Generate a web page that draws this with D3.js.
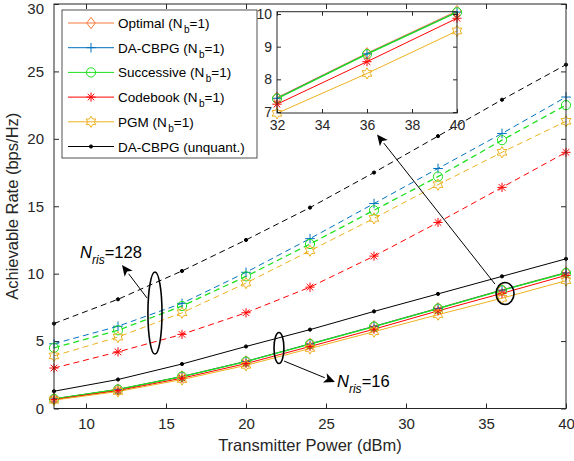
<!DOCTYPE html>
<html>
<head>
<meta charset="utf-8">
<script src="https://cdn.jsdelivr.net/npm/d3@7"></script>
<style>
  body { margin: 0; background: #fff; }
  svg { font-family: "Liberation Sans", Arial, sans-serif; }
  .tick text { fill: #262626; }
</style>
</head>
<body>
<div id="chart"></div>
<script>
(function(d3) {
  "use strict";

  // transmit power (dBm)
  var power = [8, 12, 16, 20, 24, 28, 32, 36, 40];

  // N_ris = 16 (solid lines)
  var optimal16    = [0.72, 1.42, 2.38, 3.50, 4.80, 6.10, 7.44, 8.80, 10.09];
  var dacbpg16     = [0.71, 1.41, 2.37, 3.49, 4.79, 6.09, 7.42, 8.78, 10.06];
  var successive16 = [0.71, 1.41, 2.37, 3.48, 4.78, 6.08, 7.41, 8.77, 10.05];
  var codebook16   = [0.66, 1.33, 2.25, 3.33, 4.60, 5.88, 7.24, 8.54, 9.87];
  var pgm16        = [0.62, 1.26, 2.15, 3.20, 4.45, 5.70, 6.96, 8.18, 9.48];
  var unquant16    = [1.28, 2.15, 3.30, 4.60, 5.85, 7.20, 8.50, 9.80, 11.10];

  // N_ris = 128 (dashed lines)
  var dacbpg128     = [4.8, 6.1, 7.8, 10.1, 12.6, 15.2, 17.8, 20.4, 23.1];
  var successive128 = [4.5, 5.8, 7.6, 9.8, 12.2, 14.7, 17.2, 19.9, 22.5];
  var codebook128   = [3.0, 4.2, 5.5, 7.1, 9.0, 11.3, 13.8, 16.4, 19.0];
  var pgm128        = [3.9, 5.3, 7.1, 9.3, 11.7, 14.1, 16.6, 19.0, 21.3];
  var unquant128    = [6.3, 8.1, 10.2, 12.5, 14.9, 17.5, 20.2, 22.9, 25.5];

  var xTicks = [10, 15, 20, 25, 30, 35, 40];
  var yTicks = [0, 5, 10, 15, 20, 25, 30];
  var insetXTicks = [32, 34, 36, 38, 40];
  var insetYTicks = [7, 8, 9, 10];

  var methods = [
    { key: "optimal",    name: "Optimal",    color: "#F5793A", marker: "diamond" },
    { key: "dacbpg",     name: "DA-CBPG",    color: "#0072BD", marker: "plus" },
    { key: "successive", name: "Successive", color: "#1EE11E", marker: "circle" },
    { key: "codebook",   name: "Codebook",   color: "#FF0000", marker: "asterisk" },
    { key: "pgm",        name: "PGM",        color: "#EDB120", marker: "hexagram" },
    { key: "unquant",    name: "DA-CBPG (unquant.)", color: "#000000", marker: "dot" }
  ];

  var series16 = {
    optimal: optimal16, dacbpg: dacbpg16, successive: successive16,
    codebook: codebook16, pgm: pgm16, unquant: unquant16
  };
  var series128 = {
    dacbpg: dacbpg128, successive: successive128,
    codebook: codebook128, pgm: pgm128, unquant: unquant128
  };

  var width = 574, height = 461;
  var Plot = { left: 54, right: 566, top: 4, bottom: 408.5 };
  var Inset = { left: 277, right: 457, top: 11.7, bottom: 113 };

  var x = d3.scaleLinear().domain([8, 40]).range([Plot.left, Plot.right]);
  var y = d3.scaleLinear().domain([0, 30]).range([Plot.bottom, Plot.top]);
  var xi = d3.scaleLinear().domain([32, 40]).range([Inset.left, Inset.right]);
  var yi = d3.scaleLinear().domain([6.97, 10.07]).range([Inset.bottom, Inset.top]);

  // marker shapes, centred on 0,0
  var hexagram = (function() {
    var pts = [];
    for (var k = 0; k < 12; k++) {
      var a = -Math.PI / 2 + k * Math.PI / 6;
      var r = k % 2 === 0 ? 5.6 : 3.25;
      pts.push([r * Math.cos(a), r * Math.sin(a)]);
    }
    return "M" + pts.map(p => p[0].toFixed(2) + "," + p[1].toFixed(2)).join("L") + "Z";
  })();
  var markerPath = {
    diamond: "M0,-5.6L4.3,0L0,5.6L-4.3,0Z",
    plus: "M-4.8,0H4.8M0,-4.8V4.8",
    circle: d3.symbol().type(d3.symbolCircle).size(Math.PI * 4.6 * 4.6)(),
    asterisk: "M-4.6,0H4.6M0,-4.6V4.6M-3.3,-3.3L3.3,3.3M-3.3,3.3L3.3,-3.3",
    hexagram: hexagram,
    dot: d3.symbol().type(d3.symbolCircle).size(Math.PI * 1.6 * 1.6)()
  };

  function drawMarker(g, m, px, py) {
    var p = g.append("path")
      .attr("d", markerPath[m.marker])
      .attr("transform", `translate(${px},${py})`)
      .attr("stroke", m.color)
      .attr("stroke-width", 1);
    if (m.marker === "dot") p.attr("fill", m.color);
    else p.attr("fill", "none");
  }

  var svg = d3.select("#chart").append("svg")
    .attr("width", width)
    .attr("height", height);

  svg.append("rect").attr("width", width).attr("height", height).attr("fill", "#fff");

  svg.append("clipPath").attr("id", "clipMain")
    .append("rect")
    .attr("x", Plot.left).attr("y", Plot.top)
    .attr("width", Plot.right - Plot.left).attr("height", Plot.bottom - Plot.top);

  // axes with inward ticks on all four sides
  function styleAxis(g) {
    g.select(".domain").remove();
    g.selectAll(".tick line").attr("stroke", "#262626");
  }
  svg.append("g")
    .attr("transform", `translate(0,${Plot.bottom})`)
    .call(d3.axisBottom(x).tickValues(xTicks).tickSizeInner(-5).tickSizeOuter(0).tickPadding(10))
    .call(styleAxis)
    .selectAll("text").attr("font-size", 15).attr("font-family", "Liberation Sans, Arial, sans-serif");
  svg.append("g")
    .attr("transform", `translate(0,${Plot.top})`)
    .call(d3.axisTop(x).tickValues(xTicks).tickSizeInner(-5).tickSizeOuter(0).tickFormat(""))
    .call(styleAxis);
  var yAxisG = svg.append("g")
    .attr("transform", `translate(${Plot.left},0)`)
    .call(d3.axisLeft(y).tickValues(yTicks).tickSizeInner(-5).tickSizeOuter(0).tickPadding(10))
    .call(styleAxis);
  yAxisG.selectAll("text").attr("font-size", 15).attr("font-family", "Liberation Sans, Arial, sans-serif");
  // keep the top label inside the page
  yAxisG.selectAll(".tick").filter(d => d === 30).select("text").attr("dy", "0.62em");
  svg.append("g")
    .attr("transform", `translate(${Plot.right},0)`)
    .call(d3.axisRight(y).tickValues(yTicks).tickSizeInner(-5).tickSizeOuter(0).tickFormat(""))
    .call(styleAxis);

  svg.append("text")
    .attr("x", (Plot.left + Plot.right) / 2)
    .attr("y", 451)
    .attr("text-anchor", "middle")
    .attr("font-size", 16.5)
    .attr("fill", "#262626")
    .text("Transmitter Power (dBm)");
  svg.append("text")
    .attr("transform", `translate(18,${(Plot.top + Plot.bottom) / 2}) rotate(-90)`)
    .attr("text-anchor", "middle")
    .attr("font-size", 16.5)
    .attr("fill", "#262626")
    .text("Achievable Rate (bps/Hz)");

  // curves
  var plotGroup = svg.append("g").attr("clip-path", "url(#clipMain)");
  var markerGroup = svg.append("g");

  function drawSeries(series, dash, sx, sy, lineG, markG, keep) {
    methods.forEach(function(m) {
      var vals = series[m.key];
      if (!vals) return;
      var pts = power.map((p, i) => [p, vals[i]]);
      var line = d3.line().x(d => sx(d[0])).y(d => sy(d[1]));
      lineG.append("path")
        .attr("d", line(pts))
        .attr("fill", "none")
        .attr("stroke", m.color)
        .attr("stroke-width", m.key === "successive" ? 1.3 : 1)
        .attr("stroke-dasharray", dash);
      pts.filter(keep).forEach(d => drawMarker(markG, m, sx(d[0]), sy(d[1])));
    });
  }
  drawSeries(series128, "6,4", x, y, plotGroup, markerGroup, () => true);
  drawSeries(series16, null, x, y, plotGroup, markerGroup, () => true);

  // annotations (data units of the main axes)
  var ellipses = [
    { cx: 14.31, cy: 7.08, rx: 0.44, ry: 3.04 },
    { cx: 22.06, cy: 4.49, rx: 0.31, ry: 1.15 },
    { cx: 36.19, cy: 8.53, rx: 0.56, ry: 0.82 }
  ];
  var arrows = [
    { x0: 13.81, y0: 8.20, x1: 12.25, y1: 10.64 },
    { x0: 22.38, y0: 3.52, x1: 25.56, y1: 1.97 },
    { x0: 35.56, y0: 9.23, x1: 28.19, y1: 20.32 }
  ];
  var labels = [
    { x: 9.63, y: 11.16, n: "128" },
    { x: 25.69, y: 1.59, n: "16" }
  ];

  var annot = svg.append("g");
  ellipses.forEach(function(e) {
    annot.append("ellipse")
      .attr("cx", x(e.cx)).attr("cy", y(e.cy))
      .attr("rx", x(e.cx + e.rx) - x(e.cx))
      .attr("ry", y(e.cy) - y(e.cy + e.ry))
      .attr("fill", "none")
      .attr("stroke", "#000")
      .attr("stroke-width", 1.6);
  });
  arrows.forEach(function(a) {
    var px0 = x(a.x0), py0 = y(a.y0), px1 = x(a.x1), py1 = y(a.y1);
    var ang = Math.atan2(py1 - py0, px1 - px0);
    var hl = 11, hw = 5;
    var bx = px1 - hl * Math.cos(ang), by = py1 - hl * Math.sin(ang);
    annot.append("line")
      .attr("x1", px0).attr("y1", py0).attr("x2", bx).attr("y2", by)
      .attr("stroke", "#000").attr("stroke-width", 1);
    var back = px1 - hl * 0.75 * Math.cos(ang), backY = py1 - hl * 0.75 * Math.sin(ang);
    annot.append("path")
      .attr("d", `M${px1},${py1}L${bx - hw * Math.sin(ang)},${by + hw * Math.cos(ang)}L${back},${backY}L${bx + hw * Math.sin(ang)},${by - hw * Math.cos(ang)}Z`)
      .attr("fill", "#000");
  });
  labels.forEach(function(l) {
    var t = annot.append("text")
      .attr("x", x(l.x)).attr("y", y(l.y))
      .attr("font-size", 16.5)
      .attr("fill", "#000");
    t.append("tspan").attr("font-style", "italic").text("N");
    t.append("tspan").attr("font-style", "italic").attr("font-size", 12).attr("dy", 6).text("ris");
    t.append("tspan").attr("dy", -6).text("=" + l.n);
  });

  // legend
  var Legend = { left: 62, top: 10, width: 195, height: 148, row: 24.7, first: 23 };
  var legend = svg.append("g").attr("transform", `translate(${Legend.left},${Legend.top})`);
  legend.append("rect")
    .attr("width", Legend.width).attr("height", Legend.height)
    .attr("fill", "#fff").attr("stroke", "#262626").attr("stroke-width", 0.8);
  methods.forEach(function(m, i) {
    var ly = Legend.first - Legend.top + i * Legend.row;
    legend.append("line")
      .attr("x1", 6).attr("x2", 52).attr("y1", ly).attr("y2", ly)
      .attr("stroke", m.color).attr("stroke-width", 1);
    drawMarker(legend, m, 29, ly);
    var t = legend.append("text")
      .attr("x", 56).attr("y", ly + 5)
      .attr("font-size", 13.5)
      .attr("fill", "#000");
    if (m.key === "unquant") {
      t.text(m.name);
    } else {
      t.append("tspan").text(m.name + " (N");
      t.append("tspan").attr("font-size", 10).attr("dx", 1.5).attr("dy", 5).text("b");
      t.append("tspan").attr("dy", -5).text("=1)");
    }
  });

  // inset zoom
  var inset = svg.append("g");
  inset.append("rect")
    .attr("x", Inset.left).attr("y", Inset.top)
    .attr("width", Inset.right - Inset.left).attr("height", Inset.bottom - Inset.top)
    .attr("fill", "#fff");
  svg.append("clipPath").attr("id", "clipInset")
    .append("rect")
    .attr("x", Inset.left).attr("y", Inset.top)
    .attr("width", Inset.right - Inset.left).attr("height", Inset.bottom - Inset.top);
  var insetLines = inset.append("g").attr("clip-path", "url(#clipInset)");
  var insetMarks = inset.append("g");
  var inset16 = {
    optimal: optimal16, dacbpg: dacbpg16, successive: successive16,
    codebook: codebook16, pgm: pgm16
  };
  drawSeries(inset16, null, xi, yi, insetLines, insetMarks, d => d[0] >= 32);

  inset.append("g")
    .attr("transform", `translate(0,${Inset.bottom})`)
    .call(d3.axisBottom(xi).tickValues(insetXTicks).tickSizeInner(-4).tickSizeOuter(0).tickPadding(7))
    .call(styleAxis)
    .selectAll("text").attr("font-size", 14).attr("font-family", "Liberation Sans, Arial, sans-serif");
  inset.append("g")
    .attr("transform", `translate(0,${Inset.top})`)
    .call(d3.axisTop(xi).tickValues(insetXTicks).tickSizeInner(-4).tickSizeOuter(0).tickFormat(""))
    .call(styleAxis);
  inset.append("g")
    .attr("transform", `translate(${Inset.left},0)`)
    .call(d3.axisLeft(yi).tickValues(insetYTicks).tickFormat(d3.format("d")).tickSizeInner(-4).tickSizeOuter(0).tickPadding(5))
    .call(styleAxis)
    .selectAll("text").attr("font-size", 14).attr("font-family", "Liberation Sans, Arial, sans-serif");
  inset.append("g")
    .attr("transform", `translate(${Inset.right},0)`)
    .call(d3.axisRight(yi).tickValues(insetYTicks).tickSizeInner(-4).tickSizeOuter(0).tickFormat(""))
    .call(styleAxis);
  inset.append("rect")
    .attr("x", Inset.left).attr("y", Inset.top)
    .attr("width", Inset.right - Inset.left).attr("height", Inset.bottom - Inset.top)
    .attr("fill", "none").attr("stroke", "#262626").attr("stroke-width", 1);

  // main box on top
  svg.append("rect")
    .attr("x", Plot.left).attr("y", Plot.top)
    .attr("width", Plot.right - Plot.left).attr("height", Plot.bottom - Plot.top)
    .attr("fill", "none").attr("stroke", "#262626").attr("stroke-width", 1);

})(d3);
</script>
</body>
</html>
